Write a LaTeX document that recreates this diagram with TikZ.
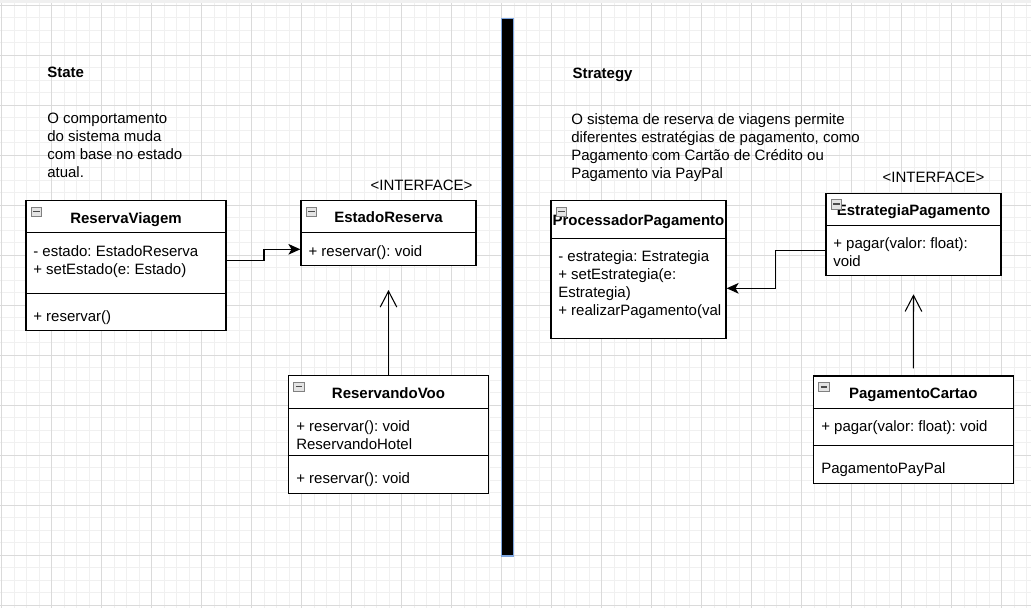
\documentclass[tikz,border=0pt]{standalone}
\usepackage{fontspec}
\setmainfont{Liberation Sans}
\usepackage{tikz}
\usetikzlibrary{arrows.meta,fit}
\frenchspacing

\definecolor{minorgrid}{HTML}{F0F0F0}
\definecolor{majorgrid}{HTML}{DADADA}
\definecolor{barblue}{HTML}{7EA6E0}
\definecolor{iconfill}{HTML}{E4E4E4}
\definecolor{iconline}{HTML}{808080}

\tikzset{
  classbox/.style={draw, line width=1pt, fill=white, inner sep=0pt},
  sepline/.style={line width=1pt},
  classtitle/.style={anchor=base, inner sep=0pt, font=\fontsize{11.25}{13.5}\selectfont\bfseries},
  members/.style={anchor=north west, inner sep=0pt, align=left, font=\fontsize{11.25}{13.5}\selectfont},
  stereo/.style={anchor=base, inner sep=0pt, font=\fontsize{11.25}{13.5}\selectfont},
  heading/.style={anchor=base west, inner sep=0pt, font=\fontsize{11.25}{13.5}\selectfont\bfseries},
  assoc/.style={line width=0.8pt, -{Stealth[length=9pt,width=8pt,inset=2.4pt]}},
  realize/.style={line width=0.8pt, -{Straight Barb[length=12pt,width=12.5pt,line width=0.8pt]}},
}

% collapse icon in the corner of a class box
\newcommand{\umlicon}[1]{%
  \draw[iconline, fill=iconfill, line width=0.6pt, shift={(#1.north west)}] (6,7) rectangle (16.5,16.5);
  \draw[black!70, line width=1.1pt, shift={(#1.north west)}] (8,11.5) -- (14.5,11.5);
}

\begin{document}
\begin{tikzpicture}[x=0.75pt, y=-0.75pt]
        \useasboundingbox (0,0) rectangle (1031,608);
        \fill [white] (0,0) rectangle (1031,608);

        % grid
        \foreach \i in {0,...,82}
          \draw [minorgrid, line width=0.75pt] ({1.7+12.5*\i},0) -- ({1.7+12.5*\i},608);
        \foreach \j in {0,...,48}
          \draw [minorgrid, line width=0.75pt] (0,{5+12.5*\j}) -- (1031,{5+12.5*\j});
        \foreach \i in {0,...,20}
          \draw [majorgrid, line width=0.75pt] ({1.7+50*\i},0) -- ({1.7+50*\i},608);
        \foreach \j in {0,...,12}
          \draw [majorgrid, line width=0.75pt] (0,{5+50*\j}) -- (1031,{5+50*\j});
        \fill [gray!12] (0,0) rectangle (1031,3);

        % divider
        \node [fill=black, draw=barblue, line width=1pt, inner sep=0pt,
               fit={(501.3,18.3) (513.3,556)}] (divider) {};

        % State side
        \node [heading] (stateT) at (47,77.5) {State};
        \node [members] (stateD) at (47,112.8)
          {O comportamento\\do sistema muda\\com base no estado\\atual.};

        \node [classbox, fit={(26,200.7) (226,330.7)}] (rv) {};
        \draw [sepline] (rv.west |- 0,232.7) -- (rv.east |- 0,232.7);
        \draw [sepline] (rv.west |- 0,293.3) -- (rv.east |- 0,293.3);
        \node [classtitle] (rvT) at (rv.center |- 0,223) {ReservaViagem};
        \node [members] (rvA) at (33,245.2) {- estado: EstadoReserva\\+ setEstado(e: Estado)};
        \node [members] (rvM) at (33,310.7) {+ reservar()};
        \umlicon{rv}

        \node [stereo] (erS) at (421.5,190.5) {<INTERFACE>};
        \node [classbox, fit={(301,200.7) (476,265.7)}] (er) {};
        \draw [sepline] (er.west |- 0,232.7) -- (er.east |- 0,232.7);
        \node [classtitle] (erT) at (er.center |- 0,222) {EstadoReserva};
        \node [members] (erA) at (308.3,245.2) {+ reservar(): void};
        \umlicon{er}

        \node [classbox, fit={(288.5,375.7) (488.5,493.3)}] (rvoo) {};
        \draw [sepline] (rvoo.west |- 0,408.3) -- (rvoo.east |- 0,408.3);
        \draw [sepline] (rvoo.west |- 0,455.7) -- (rvoo.east |- 0,455.7);
        \node [classtitle] (rvooT) at (rvoo.center |- 0,398) {ReservandoVoo};
        \node [members] (rvooA) at (296,420.7) {+ reservar(): void\\ReservandoHotel};
        \node [members] (rvooM) at (296,472.2) {+ reservar(): void};
        \umlicon{rvoo}

        \draw [assoc] (rv.east |- 0,260.3) -- ++(37.3,0) |- (er.west |- 0,249.3);
        \coordinate (erTip) at (er.south |- 0,290);
        \draw [realize] (rvoo.north) -- (erTip);

        % Strategy side
        \node [heading] (stratT) at (572.3,78) {Strategy};
        \node [members] (stratD) at (571,113.5)
          {O sistema de reserva de viagens permite\\diferentes estratégias de pagamento, como\\Pagamento com Cartão de Crédito ou\\Pagamento via PayPal};

        \node [classbox, fit={(551,200.7) (726,338.3)}] (pp) {};
        \draw [sepline] (pp.west |- 0,238.3) -- (pp.east |- 0,238.3);
        \node [classtitle] (ppT) at (pp.center |- 0,225.5) {ProcessadorPagamento};
        \node [members] (ppA) at (558,250.7)
          {- estrategia: Estrategia\\+ setEstrategia(e:\\Estrategia)\\+ realizarPagamento(val};
        \umlicon{pp}

        \node [stereo] (epS) at (933.5,182.7) {<INTERFACE>};
        \node [classbox, fit={(826,193.3) (1001,275.7)}] (ep) {};
        \draw [sepline] (ep.west |- 0,225.7) -- (ep.east |- 0,225.7);
        \node [classtitle] (epT) at (ep.center |- 0,215.5) {EstrategiaPagamento};
        \node [members] (epA) at (833,237.2) {+ pagar(valor: float):\\void};
        \umlicon{ep}

        \node [classbox, fit={(813.3,376) (1013.3,483.3)}] (pc) {};
        \draw [sepline] (pc.west |- 0,408.3) -- (pc.east |- 0,408.3);
        \draw [sepline] (pc.west |- 0,445.7) -- (pc.east |- 0,445.7);
        \node [classtitle] (pcT) at (pc.center |- 0,398) {PagamentoCartao};
        \node [members] (pcA) at (821,420.2) {+ pagar(valor: float): void};
        \node [members] (pcM) at (821,461.9) {PagamentoPayPal};
        \umlicon{pc}

        \draw [assoc] (ep.west |- 0,250.7) -- ++(-50,0) |- (pp.east |- 0,288.3);
        \coordinate (pcStart) at (pc.north |- 0,368.3);
        \coordinate (epTip) at (ep.south |- 0,294.3);
        \draw [realize] (pcStart) -- (epTip);
      \end{tikzpicture}
\end{document}
